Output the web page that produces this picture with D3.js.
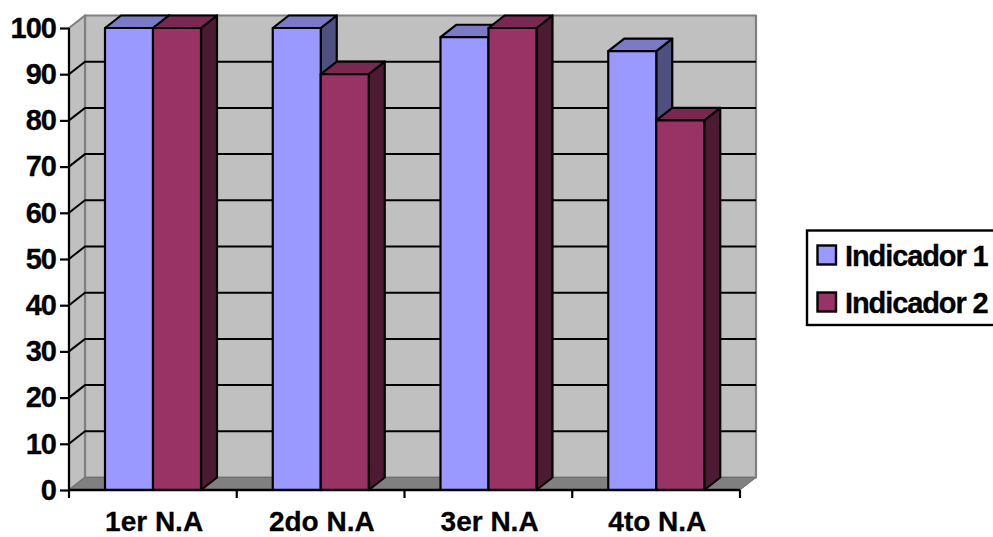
<!DOCTYPE html>
<html><head><meta charset="utf-8">
<script src="https://cdn.jsdelivr.net/npm/d3@7"></script>
<style>html,body{margin:0;padding:0;background:#fff;overflow:hidden}
text{font-family:"Liberation Sans",Arial,sans-serif;font-weight:bold;fill:#000}</style>
</head><body><svg id="c" width="993" height="537"></svg>
<script>
const categories=["1er N.A","2do N.A","3er N.A","4to N.A"];
const seriesNames=["Indicador 1","Indicador 2"];
const indicador1=[100,100,98,95];
const indicador2=[100,90,100,80];
const yTicks=[0,10,20,30,40,50,60,70,80,90,100];
const colors=["#9999ff","#993366"];
const topColors=["#7a7ac6","#7a2851"];
const sideColors=["#4f4f80","#4d1a33"];

const svg=d3.select("#c");
const x=d3.scaleBand().domain(categories).range([69,740]);
const y=d3.scaleLinear().domain([0,100]).range([490,28]);
const series=d3.scaleBand().domain(seriesNames).range([36,x.bandwidth()-35.75]);
const dx=16,dy=-12.5;
const poly=(pts,fill,stroke,w)=>svg.append("polygon").attr("points",pts.map(p=>p.join(",")).join(" ")).attr("fill",fill).attr("stroke",stroke||"none").attr("stroke-width",w||0).attr("stroke-linejoin","round");
const x0=x.range()[0],x1=x.range()[1],y0=y(0),yT=y(100);

// walls
poly([[x0+dx,yT+dy],[x1+dx,yT+dy],[x1+dx,y0+dy],[x0+dx,y0+dy]],"#c0c0c0","#808080",2.2);
poly([[x0,yT],[x0+dx,yT+dy],[x0+dx,y0+dy],[x0,y0]],"#c0c0c0","#808080",2.2);
poly([[x0,y0],[x0+dx,y0+dy],[x1+dx,y0+dy],[x1,y0]],"#808080","#6e6e6e",1);

// gridlines
svg.append("g").selectAll("path").data(yTicks.filter(d=>d>0&&d<100)).join("path")
  .attr("d",d=>d3.line()([[x0,y(d)],[x0+dx,y(d)+dy],[x1+dx,y(d)+dy]]))
  .attr("fill","none").attr("stroke","#000").attr("stroke-width",2);

// bars
const rows=categories.flatMap((c,i)=>[
  {c,s:0,v:indicador1[i]},{c,s:1,v:indicador2[i]}]);
rows.forEach(r=>{
  const l=x(r.c)+series(seriesNames[r.s]),w=series.bandwidth(),t=y(r.v),b=y(0);
  poly([[l+w,t],[l+w+dx,t+dy],[l+w+dx,b+dy],[l+w,b]],sideColors[r.s],"#000",2.2);
  poly([[l,t],[l+dx,t+dy],[l+w+dx,t+dy],[l+w,t]],topColors[r.s],"#000",2.2);
  poly([[l,t],[l+w,t],[l+w,b],[l,b]],colors[r.s],"#000",2.2);
});

// axes
const styleText=(sel,ls,fs)=>sel.style("font-size",fs+"px").style("font-family","Liberation Sans").style("font-weight","bold").attr("letter-spacing",ls).attr("fill","#000").attr("stroke","#000").attr("stroke-width",0.3);
const gy=svg.append("g").attr("transform",`translate(${x0},0)`)
  .call(d3.axisLeft(y).tickValues(yTicks).tickSize(9).tickPadding(4));
gy.select(".domain").attr("stroke","#000").attr("stroke-width",2.2).attr("d",`M0,${yT}V${y0}`);
gy.selectAll(".tick line").attr("stroke","#000").attr("stroke-width",2.2);
styleText(gy.selectAll("text"),"-1",29);

const gx=svg.append("g").attr("transform",`translate(0,${y0})`)
  .call(d3.axisBottom(x).tickSize(0).tickPadding(21));
gx.select(".domain").attr("stroke","#000").attr("stroke-width",2.4).attr("d",`M${x0},0H${x1}`);
styleText(gx.selectAll("text"),"0",28);
gx.selectAll("text").attr("dx",1.2);
svg.append("g").selectAll("line").data(d3.range(categories.length+1)).join("line")
  .attr("x1",i=>x0+i*x.step()).attr("x2",i=>x0+i*x.step())
  .attr("y1",y0).attr("y2",y0+8).attr("stroke","#000").attr("stroke-width",2.2);

// legend
svg.append("rect").attr("x",807).attr("y",230.5).attr("width",200).attr("height",94.5)
  .attr("fill","#fff").attr("stroke","#000").attr("stroke-width",2.4);
seriesNames.forEach((n,i)=>{
  const yy=245.5+i*47;
  svg.append("rect").attr("x",817.5).attr("y",yy).attr("width",18.5).attr("height",19)
    .attr("fill",colors[i]).attr("stroke","#000").attr("stroke-width",2.4);
  styleText(svg.append("text").attr("x",845).attr("y",yy+20),"-1.1",29).text(n);
});
</script></body></html>
